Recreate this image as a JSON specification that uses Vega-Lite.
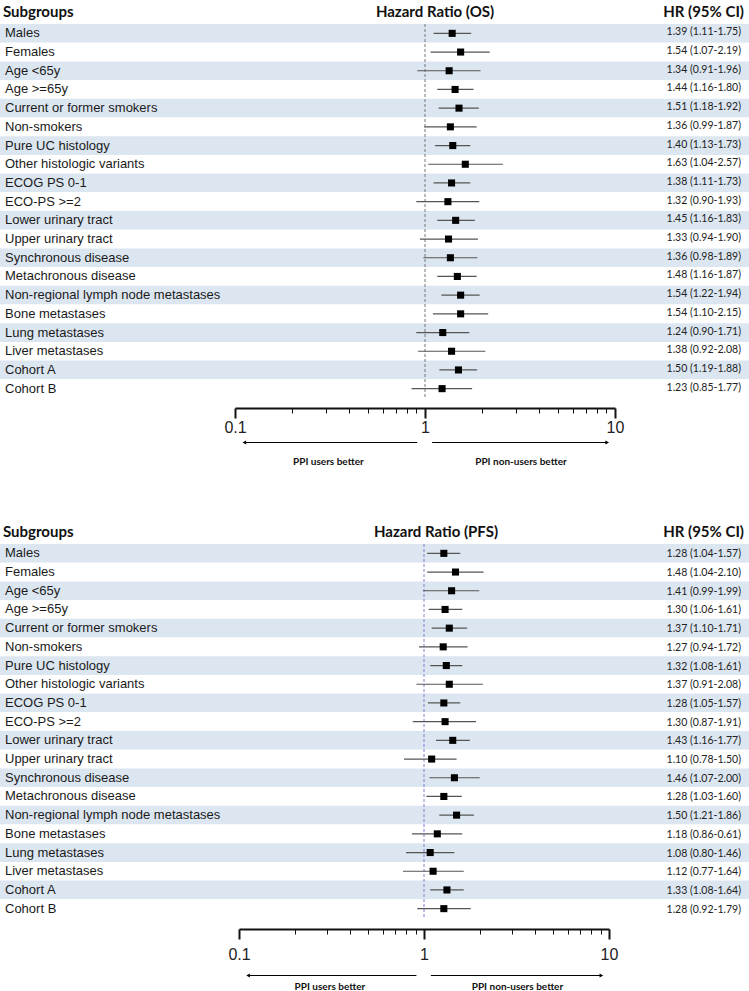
{
  "$schema": "https://vega.github.io/schema/vega-lite/v6.json",
  "background": "white",
  "padding": {"left": 0, "top": 4, "right": 0, "bottom": 0},
  "config": {"view": {"stroke": null}},
  "datasets": {
    "os": [
      {"group": "Males", "hr": 1.39, "lo": 1.11, "hi": 1.75, "label": "1.39 (1.11-1.75)"},
      {"group": "Females", "hr": 1.54, "lo": 1.07, "hi": 2.19, "label": "1.54 (1.07-2.19)"},
      {"group": "Age <65y", "hr": 1.34, "lo": 0.91, "hi": 1.96, "label": "1.34 (0.91-1.96)"},
      {"group": "Age >=65y", "hr": 1.44, "lo": 1.16, "hi": 1.80, "label": "1.44 (1.16-1.80)"},
      {"group": "Current or former smokers", "hr": 1.51, "lo": 1.18, "hi": 1.92, "label": "1.51 (1.18-1.92)"},
      {"group": "Non-smokers", "hr": 1.36, "lo": 0.99, "hi": 1.87, "label": "1.36 (0.99-1.87)"},
      {"group": "Pure UC histology", "hr": 1.40, "lo": 1.13, "hi": 1.73, "label": "1.40 (1.13-1.73)"},
      {"group": "Other histologic variants", "hr": 1.63, "lo": 1.04, "hi": 2.57, "label": "1.63 (1.04-2.57)"},
      {"group": "ECOG PS 0-1", "hr": 1.38, "lo": 1.11, "hi": 1.73, "label": "1.38 (1.11-1.73)"},
      {"group": "ECO-PS >=2", "hr": 1.32, "lo": 0.90, "hi": 1.93, "label": "1.32 (0.90-1.93)"},
      {"group": "Lower urinary tract", "hr": 1.45, "lo": 1.16, "hi": 1.83, "label": "1.45 (1.16-1.83)"},
      {"group": "Upper urinary tract", "hr": 1.33, "lo": 0.94, "hi": 1.90, "label": "1.33 (0.94-1.90)"},
      {"group": "Synchronous disease", "hr": 1.36, "lo": 0.98, "hi": 1.89, "label": "1.36 (0.98-1.89)"},
      {"group": "Metachronous disease", "hr": 1.48, "lo": 1.16, "hi": 1.87, "label": "1.48 (1.16-1.87)"},
      {"group": "Non-regional lymph node metastases", "hr": 1.54, "lo": 1.22, "hi": 1.94, "label": "1.54 (1.22-1.94)"},
      {"group": "Bone metastases", "hr": 1.54, "lo": 1.10, "hi": 2.15, "label": "1.54 (1.10-2.15)"},
      {"group": "Lung metastases", "hr": 1.24, "lo": 0.90, "hi": 1.71, "label": "1.24 (0.90-1.71)"},
      {"group": "Liver metastases", "hr": 1.38, "lo": 0.92, "hi": 2.08, "label": "1.38 (0.92-2.08)"},
      {"group": "Cohort A", "hr": 1.50, "lo": 1.19, "hi": 1.88, "label": "1.50 (1.19-1.88)"},
      {"group": "Cohort B", "hr": 1.23, "lo": 0.85, "hi": 1.77, "label": "1.23 (0.85-1.77)"}
    ],
    "pfs": [
      {"group": "Males", "hr": 1.28, "lo": 1.04, "hi": 1.57, "label": "1.28 (1.04-1.57)"},
      {"group": "Females", "hr": 1.48, "lo": 1.04, "hi": 2.10, "label": "1.48 (1.04-2.10)"},
      {"group": "Age <65y", "hr": 1.41, "lo": 0.99, "hi": 1.99, "label": "1.41 (0.99-1.99)"},
      {"group": "Age >=65y", "hr": 1.30, "lo": 1.06, "hi": 1.61, "label": "1.30 (1.06-1.61)"},
      {"group": "Current or former smokers", "hr": 1.37, "lo": 1.10, "hi": 1.71, "label": "1.37 (1.10-1.71)"},
      {"group": "Non-smokers", "hr": 1.27, "lo": 0.94, "hi": 1.72, "label": "1.27 (0.94-1.72)"},
      {"group": "Pure UC histology", "hr": 1.32, "lo": 1.08, "hi": 1.61, "label": "1.32 (1.08-1.61)"},
      {"group": "Other histologic variants", "hr": 1.37, "lo": 0.91, "hi": 2.08, "label": "1.37 (0.91-2.08)"},
      {"group": "ECOG PS 0-1", "hr": 1.28, "lo": 1.05, "hi": 1.57, "label": "1.28 (1.05-1.57)"},
      {"group": "ECO-PS >=2", "hr": 1.30, "lo": 0.87, "hi": 1.91, "label": "1.30 (0.87-1.91)"},
      {"group": "Lower urinary tract", "hr": 1.43, "lo": 1.16, "hi": 1.77, "label": "1.43 (1.16-1.77)"},
      {"group": "Upper urinary tract", "hr": 1.10, "lo": 0.78, "hi": 1.50, "label": "1.10 (0.78-1.50)"},
      {"group": "Synchronous disease", "hr": 1.46, "lo": 1.07, "hi": 2.00, "label": "1.46 (1.07-2.00)"},
      {"group": "Metachronous disease", "hr": 1.28, "lo": 1.03, "hi": 1.60, "label": "1.28 (1.03-1.60)"},
      {"group": "Non-regional lymph node metastases", "hr": 1.50, "lo": 1.21, "hi": 1.86, "label": "1.50 (1.21-1.86)"},
      {"group": "Bone metastases", "hr": 1.18, "lo": 0.86, "hi": 1.61, "label": "1.18 (0.86-0.61)"},
      {"group": "Lung metastases", "hr": 1.08, "lo": 0.80, "hi": 1.46, "label": "1.08 (0.80-1.46)"},
      {"group": "Liver metastases", "hr": 1.12, "lo": 0.77, "hi": 1.64, "label": "1.12 (0.77-1.64)"},
      {"group": "Cohort A", "hr": 1.33, "lo": 1.08, "hi": 1.64, "label": "1.33 (1.08-1.64)"},
      {"group": "Cohort B", "hr": 1.28, "lo": 0.92, "hi": 1.79, "label": "1.28 (0.92-1.79)"}
    ],
    "arrows": [
      {"side": "left", "from": 0.112, "to": 0.91, "text": "PPI users better", "textx": 0.31},
      {"side": "right", "from": 1.09, "to": 9.1, "text": "PPI non-users better", "textx": 3.2}
    ],
    "ref": [{"ref": 1}]
  },
  "spacing": 56,
  "vconcat": [
    {
      "columns": 3,
      "align": "each",
      "bounds": "flush",
      "spacing": {"row": 40, "column": 0},
      "concat": [
        {
          "width": 235, "height": 374,
          "title": {"text": "Subgroups", "anchor": "start", "dx": 3, "font": "Lato", "fontSize": 15, "fontWeight": "bold", "color": "#111", "offset": 4},
          "data": {"name": "os"},
          "transform": [{"window": [{"op": "row_number", "as": "rn"}]}],
          "layer": [
            {"mark": {"type": "rect"}, "encoding": {
              "y": {"field": "group", "type": "nominal", "sort": null, "axis": null, "scale": {"paddingInner": 0, "paddingOuter": 0}},
              "color": {"condition": {"test": "datum.rn % 2 == 1", "value": "#dce6f1"}, "value": "#ffffff"}}},
            {"mark": {"type": "text", "align": "left", "dx": 5, "font": "Liberation Sans", "fontSize": 13, "color": "#1a1a1a"}, "encoding": {
              "y": {"field": "group", "type": "nominal", "sort": null, "axis": null},
              "x": {"datum": 0, "type": "quantitative", "scale": {"domain": [0, 1]}, "axis": null},
              "text": {"field": "group"}}}
          ]
        },
        {
          "width": 380, "height": 374,
          "title": {"text": "Hazard Ratio (OS)", "anchor": "middle", "dx": 10, "font": "Lato", "fontSize": 15, "fontWeight": "bold", "color": "#111", "offset": 4},
          "data": {"name": "os"},
          "transform": [{"window": [{"op": "row_number", "as": "rn"}]}],
          "layer": [
            {"mark": {"type": "rect"}, "encoding": {
              "y": {"field": "group", "type": "nominal", "sort": null, "axis": null, "scale": {"paddingInner": 0, "paddingOuter": 0}},
              "color": {"condition": {"test": "datum.rn % 2 == 1", "value": "#dce6f1"}, "value": "#ffffff"}}},
            {"data": {"name": "ref"}, "mark": {"type": "rule", "strokeDash": [3, 2], "color": "#777777", "strokeWidth": 1}, "encoding": {
              "x": {"field": "ref", "type": "quantitative", "title": null,
                "scale": {"type": "log", "domain": [0.1, 10], "nice": false},
                "axis": {
                  "values": [0.1, 0.2, 0.3, 0.4, 0.5, 0.6, 0.7, 0.8, 0.9, 1, 2, 3, 4, 5, 6, 7, 8, 9, 10],
                  "labelExpr": "datum.value == 0.1 ? '0.1' : datum.value == 1 ? '1' : datum.value == 10 ? '10' : ''",
                  "tickSize": {"condition": {"test": "datum.value == 0.1 || datum.value == 1 || datum.value == 10", "value": 10}, "value": 5},
                  "tickWidth": {"condition": {"test": "datum.value == 0.1 || datum.value == 1 || datum.value == 10", "value": 2}, "value": 1},
                  "tickColor": "#111", "domainColor": "#111", "domainWidth": 2,
                  "labelFont": "Liberation Sans", "labelFontSize": 16, "labelColor": "#222", "labelPadding": 1,
                  "labelFlush": false, "labelOverlap": false, "grid": false, "offset": 10, "title": null
                }}}},
            {"mark": {"type": "rule", "color": "#555555", "strokeWidth": 1.2}, "encoding": {
              "y": {"field": "group", "type": "nominal", "sort": null, "axis": null},
              "x": {"field": "lo", "type": "quantitative", "title": null},
              "x2": {"field": "hi"}}},
            {"mark": {"type": "point", "shape": "square", "filled": true, "size": 50, "color": "#000000", "opacity": 1}, "encoding": {
              "y": {"field": "group", "type": "nominal", "sort": null, "axis": null},
              "x": {"field": "hr", "type": "quantitative", "title": null}}}
          ]
        },
        {
          "width": 134, "height": 374,
          "title": {"text": "HR (95% CI)", "anchor": "end", "dx": -5, "font": "Lato", "fontSize": 15, "fontWeight": "bold", "color": "#111", "offset": 4},
          "data": {"name": "os"},
          "transform": [{"window": [{"op": "row_number", "as": "rn"}]}],
          "layer": [
            {"mark": {"type": "rect"}, "encoding": {
              "y": {"field": "group", "type": "nominal", "sort": null, "axis": null, "scale": {"paddingInner": 0, "paddingOuter": 0}},
              "color": {"condition": {"test": "datum.rn % 2 == 1", "value": "#dce6f1"}, "value": "#ffffff"}}},
            {"mark": {"type": "text", "align": "right", "dx": -8, "dy": -1, "font": "Lato", "fontSize": 10.5, "color": "#222"}, "encoding": {
              "y": {"field": "group", "type": "nominal", "sort": null, "axis": null},
              "x": {"datum": 1, "type": "quantitative", "scale": {"domain": [0, 1]}, "axis": null},
              "text": {"field": "label"}}}
          ]
        },
        {"width": 235, "height": 30, "data": {"values": []}, "mark": "point"},
        {
          "width": 380, "height": 30,
          "data": {"name": "arrows"},
          "layer": [
            {"mark": {"type": "rule", "color": "#000", "strokeWidth": 1}, "encoding": {
              "x": {"field": "from", "type": "quantitative", "scale": {"type": "log", "domain": [0.1, 10], "nice": false}, "axis": null},
              "x2": {"field": "to"},
              "y": {"datum": 0.85, "type": "quantitative", "scale": {"domain": [0, 1]}, "axis": null}}},
            {"transform": [{"filter": "datum.side == 'left'"}], "mark": {"type": "point", "shape": "triangle-left", "filled": true, "size": 18, "color": "#000", "opacity": 1}, "encoding": {
              "x": {"field": "from", "type": "quantitative"},
              "y": {"datum": 0.85, "type": "quantitative"}}},
            {"transform": [{"filter": "datum.side == 'right'"}], "mark": {"type": "point", "shape": "triangle-right", "filled": true, "size": 18, "color": "#000", "opacity": 1}, "encoding": {
              "x": {"field": "to", "type": "quantitative"},
              "y": {"datum": 0.85, "type": "quantitative"}}},
            {"mark": {"type": "text", "font": "Lato", "fontWeight": "bold", "fontSize": 10, "color": "#111"}, "encoding": {
              "x": {"field": "textx", "type": "quantitative"},
              "y": {"datum": 0.19, "type": "quantitative"},
              "text": {"field": "text"}}}
          ]
        },
        {"width": 134, "height": 30, "data": {"values": []}, "mark": "point"}
      ]
    },
    {
      "columns": 3,
      "align": "each",
      "bounds": "flush",
      "spacing": {"row": 53, "column": 0},
      "concat": [
        {
          "width": 239, "height": 374,
          "title": {"text": "Subgroups", "anchor": "start", "dx": 3, "font": "Lato", "fontSize": 15, "fontWeight": "bold", "color": "#111", "offset": 4},
          "data": {"name": "pfs"},
          "transform": [{"window": [{"op": "row_number", "as": "rn"}]}],
          "layer": [
            {"mark": {"type": "rect"}, "encoding": {
              "y": {"field": "group", "type": "nominal", "sort": null, "axis": null, "scale": {"paddingInner": 0, "paddingOuter": 0}},
              "color": {"condition": {"test": "datum.rn % 2 == 1", "value": "#dce6f1"}, "value": "#ffffff"}}},
            {"mark": {"type": "text", "align": "left", "dx": 5, "font": "Liberation Sans", "fontSize": 13, "color": "#1a1a1a"}, "encoding": {
              "y": {"field": "group", "type": "nominal", "sort": null, "axis": null},
              "x": {"datum": 0, "type": "quantitative", "scale": {"domain": [0, 1]}, "axis": null},
              "text": {"field": "group"}}}
          ]
        },
        {
          "width": 370, "height": 374,
          "title": {"text": "Hazard Ratio (PFS)", "anchor": "middle", "dx": 12, "font": "Lato", "fontSize": 15, "fontWeight": "bold", "color": "#111", "offset": 4},
          "data": {"name": "pfs"},
          "transform": [{"window": [{"op": "row_number", "as": "rn"}]}],
          "layer": [
            {"mark": {"type": "rect"}, "encoding": {
              "y": {"field": "group", "type": "nominal", "sort": null, "axis": null, "scale": {"paddingInner": 0, "paddingOuter": 0}},
              "color": {"condition": {"test": "datum.rn % 2 == 1", "value": "#dce6f1"}, "value": "#ffffff"}}},
            {"data": {"name": "ref"}, "mark": {"type": "rule", "strokeDash": [3, 2], "color": "#7f7fd0", "strokeWidth": 1}, "encoding": {
              "x": {"field": "ref", "type": "quantitative", "title": null,
                "scale": {"type": "log", "domain": [0.1, 10], "nice": false},
                "axis": {
                  "values": [0.1, 0.2, 0.3, 0.4, 0.5, 0.6, 0.7, 0.8, 0.9, 1, 2, 3, 4, 5, 6, 7, 8, 9, 10],
                  "labelExpr": "datum.value == 0.1 ? '0.1' : datum.value == 1 ? '1' : datum.value == 10 ? '10' : ''",
                  "tickSize": {"condition": {"test": "datum.value == 0.1 || datum.value == 1 || datum.value == 10", "value": 10}, "value": 5},
                  "tickWidth": {"condition": {"test": "datum.value == 0.1 || datum.value == 1 || datum.value == 10", "value": 2}, "value": 1},
                  "tickColor": "#111", "domainColor": "#111", "domainWidth": 2,
                  "labelFont": "Liberation Sans", "labelFontSize": 16, "labelColor": "#222", "labelPadding": 7,
                  "labelFlush": false, "labelOverlap": false, "grid": false, "offset": 11, "title": null
                }}}},
            {"mark": {"type": "rule", "color": "#555555", "strokeWidth": 1.2}, "encoding": {
              "y": {"field": "group", "type": "nominal", "sort": null, "axis": null},
              "x": {"field": "lo", "type": "quantitative", "title": null},
              "x2": {"field": "hi"}}},
            {"mark": {"type": "point", "shape": "square", "filled": true, "size": 50, "color": "#000000", "opacity": 1}, "encoding": {
              "y": {"field": "group", "type": "nominal", "sort": null, "axis": null},
              "x": {"field": "hr", "type": "quantitative", "title": null}}}
          ]
        },
        {
          "width": 140, "height": 374,
          "title": {"text": "HR (95% CI)", "anchor": "end", "dx": -5, "font": "Lato", "fontSize": 15, "fontWeight": "bold", "color": "#111", "offset": 4},
          "data": {"name": "pfs"},
          "transform": [{"window": [{"op": "row_number", "as": "rn"}]}],
          "layer": [
            {"mark": {"type": "rect"}, "encoding": {
              "y": {"field": "group", "type": "nominal", "sort": null, "axis": null, "scale": {"paddingInner": 0, "paddingOuter": 0}},
              "color": {"condition": {"test": "datum.rn % 2 == 1", "value": "#dce6f1"}, "value": "#ffffff"}}},
            {"mark": {"type": "text", "align": "right", "dx": -8, "dy": 1, "font": "Lato", "fontSize": 10.5, "color": "#222"}, "encoding": {
              "y": {"field": "group", "type": "nominal", "sort": null, "axis": null},
              "x": {"datum": 1, "type": "quantitative", "scale": {"domain": [0, 1]}, "axis": null},
              "text": {"field": "label"}}}
          ]
        },
        {"width": 239, "height": 30, "data": {"values": []}, "mark": "point"},
        {
          "width": 370, "height": 30,
          "data": {"name": "arrows"},
          "layer": [
            {"mark": {"type": "rule", "color": "#000", "strokeWidth": 1}, "encoding": {
              "x": {"field": "from", "type": "quantitative", "scale": {"type": "log", "domain": [0.1, 10], "nice": false}, "axis": null},
              "x2": {"field": "to"},
              "y": {"datum": 0.85, "type": "quantitative", "scale": {"domain": [0, 1]}, "axis": null}}},
            {"transform": [{"filter": "datum.side == 'left'"}], "mark": {"type": "point", "shape": "triangle-left", "filled": true, "size": 18, "color": "#000", "opacity": 1}, "encoding": {
              "x": {"field": "from", "type": "quantitative"},
              "y": {"datum": 0.85, "type": "quantitative"}}},
            {"transform": [{"filter": "datum.side == 'right'"}], "mark": {"type": "point", "shape": "triangle-right", "filled": true, "size": 18, "color": "#000", "opacity": 1}, "encoding": {
              "x": {"field": "to", "type": "quantitative"},
              "y": {"datum": 0.85, "type": "quantitative"}}},
            {"mark": {"type": "text", "font": "Lato", "fontWeight": "bold", "fontSize": 10, "color": "#111"}, "encoding": {
              "x": {"field": "textx", "type": "quantitative"},
              "y": {"datum": 0.48, "type": "quantitative"},
              "text": {"field": "text"}}}
          ]
        },
        {"width": 140, "height": 30, "data": {"values": []}, "mark": "point"}
      ]
    }
  ]
}
